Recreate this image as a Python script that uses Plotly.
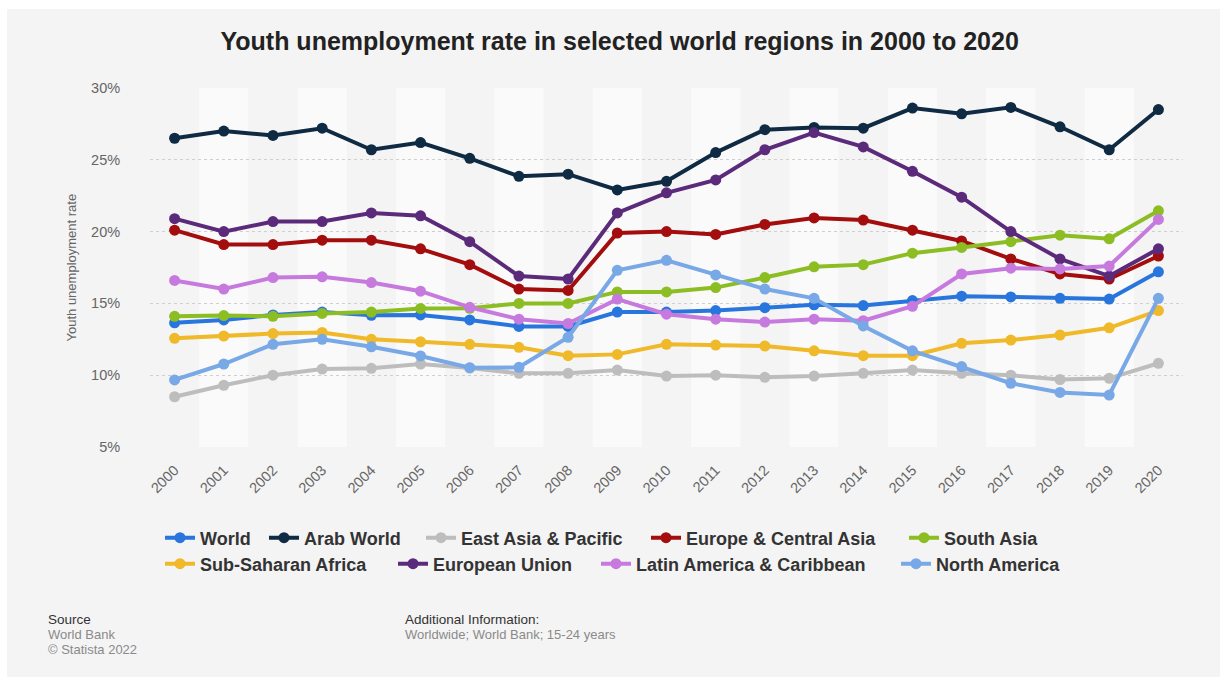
import plotly.graph_objects as go

years = list(range(2000, 2021))
tick_labels = [str(y) for y in years]

world = [13.65, 13.85, 14.2, 14.4, 14.17, 14.2, 13.85, 13.4, 13.4, 14.4, 14.4, 14.5, 14.7, 14.9, 14.85, 15.2, 15.5, 15.45, 15.35, 15.3, 17.2]
arab_world = [26.5, 27.0, 26.7, 27.2, 25.7, 26.2, 25.1, 23.85, 24.0, 22.9, 23.5, 25.5, 27.1, 27.25, 27.2, 28.6, 28.2, 28.65, 27.3, 25.7, 28.5]
east_asia = [8.5, 9.3, 10.0, 10.43, 10.48, 10.78, 10.5, 10.13, 10.13, 10.36, 9.94, 10.0, 9.85, 9.94, 10.13, 10.36, 10.13, 10.0, 9.7, 9.78, 10.83]
europe_ca = [20.1, 19.1, 19.1, 19.4, 19.4, 18.8, 17.7, 16.0, 15.9, 19.9, 20.0, 19.8, 20.5, 20.95, 20.8, 20.1, 19.35, 18.1, 17.05, 16.7, 18.3]
south_asia = [14.1, 14.15, 14.1, 14.3, 14.4, 14.65, 14.66, 15.0, 15.0, 15.8, 15.8, 16.1, 16.8, 17.55, 17.7, 18.5, 18.9, 19.3, 19.75, 19.5, 21.45]
sub_saharan = [12.57, 12.73, 12.9, 12.98, 12.5, 12.33, 12.15, 11.94, 11.36, 11.45, 12.15, 12.1, 12.03, 11.7, 11.36, 11.36, 12.22, 12.45, 12.8, 13.3, 14.5]
eu = [20.9, 20.0, 20.7, 20.7, 21.3, 21.1, 19.3, 16.9, 16.7, 21.3, 22.7, 23.6, 25.7, 26.9, 25.9, 24.2, 22.4, 20.0, 18.1, 16.9, 18.8]
latin_am = [16.6, 16.0, 16.8, 16.85, 16.45, 15.85, 14.73, 13.9, 13.6, 15.3, 14.25, 13.9, 13.7, 13.9, 13.8, 14.8, 17.05, 17.45, 17.4, 17.6, 20.85]
north_am = [9.67, 10.78, 12.15, 12.5, 11.98, 11.34, 10.52, 10.55, 12.64, 17.3, 18.0, 16.98, 16.0, 15.35, 13.43, 11.7, 10.6, 9.44, 8.8, 8.62, 15.35]

series_names = ["World", "Arab World", "East Asia & Pacific", "Europe & Central Asia", "South Asia",
                "Sub-Saharan Africa", "European Union", "Latin America & Caribbean", "North America"]
series_values = [world, arab_world, east_asia, europe_ca, south_asia,
                 sub_saharan, eu, latin_am, north_am]
series_colors = ["#2876dd", "#0f2a43", "#bdbdbd", "#a30d0d", "#8cbd23",
                 "#f0b929", "#5c2a7a", "#c77ade", "#78a8e6"]

y_ticks = [5, 10, 15, 20, 25, 30]
y_tick_text = ["5%", "10%", "15%", "20%", "25%", "30%"]

W, H = 1227, 684
L, R, T, B = 150, 44, 88, 237
pw, ph = W - L - R, H - T - B

def px(x):
    return (x - L) / pw

def py(y):
    return (H - B - y) / ph

# legend entry placement (pixel x of the symbol start, pixel y of the row)
legend_pos = [(167, 538), (271, 538), (428, 538), (653, 538), (911, 538),
              (167, 564), (400, 564), (603, 564), (903, 564)]

font_fam = "Liberation Sans, Arial, sans-serif"

fig = go.Figure()
legend_layouts = {}
for i, (name, vals, color) in enumerate(zip(series_names, series_values, series_colors)):
    lg = "legend" if i == 0 else f"legend{i + 1}"
    fig.add_trace(go.Scatter(
        x=years, y=vals, name=name, mode="lines+markers",
        line=dict(color=color, width=4),
        marker=dict(color=color, size=11),
        legend=lg,
        hovertemplate="%{y:.2f}%<extra>" + name + "</extra>",
    ))
    lx, ly = legend_pos[i]
    legend_layouts[lg] = dict(
        orientation="h", xanchor="left", yanchor="middle",
        x=px(lx - 7), y=py(ly),
        bgcolor="rgba(0,0,0,0)", borderwidth=0, itemwidth=30,
        font=dict(size=18, color="#333333", family=font_fam, weight="bold"),
        itemclick=False, itemdoubleclick=False)

shapes = [dict(type="rect", xref="paper", yref="paper", layer="below",
               x0=px(7), x1=px(1220), y0=py(677), y1=py(9),
               fillcolor="#f4f4f4", line=dict(width=0))]
for yr in years:
    if yr % 2 == 1:
        shapes.append(dict(type="rect", xref="x", yref="paper", layer="below",
                           x0=yr - 0.5, x1=yr + 0.5, y0=0, y1=1,
                           fillcolor="#fafafa", line=dict(width=0)))

annotations = [
    dict(text="Youth unemployment rate", xref="paper", yref="paper",
         x=px(71), y=0.5, textangle=-90, showarrow=False,
         font=dict(size=13, color="#666666", family=font_fam),
         xanchor="center", yanchor="middle"),
    dict(text="Source", xref="paper", yref="paper", x=px(47), y=py(619),
         showarrow=False, xanchor="left", yanchor="middle", borderpad=0,
         font=dict(size=13.5, color="#333333", family=font_fam)),
    dict(text="World Bank", xref="paper", yref="paper", x=px(47), y=py(634),
         showarrow=False, xanchor="left", yanchor="middle", borderpad=0,
         font=dict(size=13, color="#8a8a8a", family=font_fam)),
    dict(text="© Statista 2022", xref="paper", yref="paper", x=px(47), y=py(649),
         showarrow=False, xanchor="left", yanchor="middle", borderpad=0,
         font=dict(size=13, color="#8a8a8a", family=font_fam)),
    dict(text="Additional Information:", xref="paper", yref="paper", x=px(404), y=py(619),
         showarrow=False, xanchor="left", yanchor="middle", borderpad=0,
         font=dict(size=13.5, color="#333333", family=font_fam)),
    dict(text="Worldwide; World Bank; 15-24 years", xref="paper", yref="paper", x=px(404), y=py(634),
         showarrow=False, xanchor="left", yanchor="middle", borderpad=0,
         font=dict(size=13, color="#8a8a8a", family=font_fam)),
]

fig.update_layout(
    width=W, height=H,
    margin=dict(l=L, r=R, t=T, b=B, autoexpand=False),
    paper_bgcolor="#ffffff",
    plot_bgcolor="#f4f4f4",
    font=dict(family=font_fam),
    title=dict(text="<b>Youth unemployment rate in selected world regions in 2000 to 2020</b>",
               xref="container", yref="container", x=0.505, y=1 - 41 / H,
               xanchor="center", yanchor="middle",
               font=dict(size=25, color="#222222", family=font_fam)),
    xaxis=dict(range=[1999.5, 2020.5], tickmode="array", tickvals=years, ticktext=tick_labels,
               tickangle=-45, showgrid=False, zeroline=False, showline=False,
               ticks="outside", ticklen=8, tickcolor="rgba(0,0,0,0)",
               tickfont=dict(size=14.5, color="#666666", family=font_fam), fixedrange=True),
    yaxis=dict(range=[5, 30], tickmode="array", tickvals=y_ticks, ticktext=y_tick_text,
               showgrid=True, gridcolor="#cfcfcf", griddash="dot", gridwidth=1,
               zeroline=False, showline=False,
               ticks="outside", ticklen=26, tickcolor="rgba(0,0,0,0)",
               tickfont=dict(size=14.5, color="#666666", family=font_fam), fixedrange=True),
    shapes=shapes,
    annotations=annotations,
    showlegend=True,
    **legend_layouts,
)

fig.write_html("out.html", include_plotlyjs=True, config={"displayModeBar": False},
               post_script="document.body.style.margin='0px';document.body.style.overflow='hidden';")
